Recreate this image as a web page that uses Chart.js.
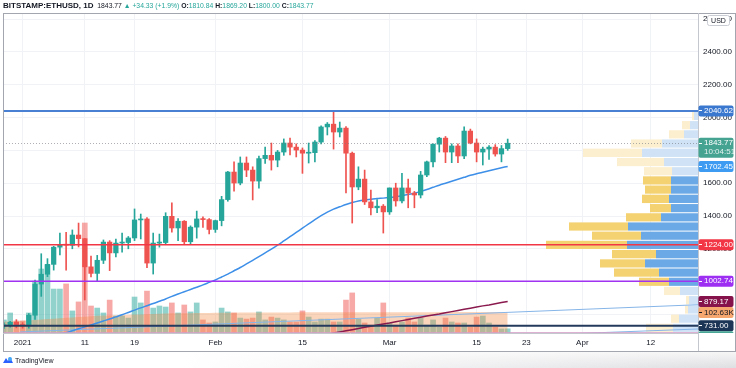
<!DOCTYPE html>
<html>
<head>
<meta charset="utf-8">
<title>BITSTAMP:ETHUSD 1D</title>
<script src="https://cdn.jsdelivr.net/npm/chart.js@4.4.1/dist/chart.umd.min.js"></script>
<style>
  html, body { margin: 0; padding: 0; background: #fff; }
  #wrap { position: relative; width: 736px; height: 368px; overflow: hidden; background: #fff; }
  #foot { position: absolute; left: 0; top: 352px; width: 736px; height: 16px;
    background: linear-gradient(to right, #fff 25%, rgba(255,255,255,0) 100%),
                linear-gradient(to bottom, #f6f6f7, #dedfe2); }
  #chart { position: absolute; left: 0; top: 0; }
  #hdr { position: absolute; left: 3px; top: 0; font: 6.8px "Liberation Sans", Arial, sans-serif;
    line-height: 11px; color: #131722; white-space: nowrap; z-index: 2; }
  #hdr .sym { font-weight: bold; font-size: 8px; }
  #hdr b { font-weight: bold; }
  #hdr .g { color: #26a69a; }
  #logo { position: absolute; left: 3px; top: 356px; font: 7px "Liberation Sans", Arial, sans-serif;
    color: #131722; z-index: 2; display: flex; align-items: center; gap: 2px; }
</style>
</head>
<body>
<div id="wrap">
  <div id="foot"></div>
  <canvas id="chart" width="736" height="368"></canvas>
  <div id="hdr"><span class="sym">BITSTAMP:ETHUSD, 1D</span>&nbsp; 1843.77 <span class="g">▲ +34.33 (+1.9%)</span> <b>O:</b><span class="g">1810.84</span> <b>H:</b><span class="g">1869.20</span> <b>L:</b><span class="g">1800.00</span> <b>C:</b><span class="g">1843.77</span></div>
  <div id="logo">
    <svg width="10" height="8" viewBox="0 0 10 8"><path d="M0 7 L3 2 L5 5 L7 1 L10 7 Z" fill="#2962ff"/><circle cx="7" cy="3" r="2" fill="#43a6f5"/></svg>
    <span>TradingView</span>
  </div>
</div>
<script>
// days are counted from 1 Jan 2021; first candle is 29 Dec 2020
const firstDay = -3;

const opens = [
  730, 735, 752, 738, 730, 795, 985, 1045, 1105, 1210,
  1225, 1222, 1284, 1262, 1090, 1050, 1130, 1241, 1175, 1235,
  1238, 1266, 1376, 1382, 1113, 1235, 1238, 1398, 1327, 1368,
  1243, 1332, 1382, 1378, 1318, 1372, 1500, 1668, 1601, 1723,
  1680, 1613, 1750, 1770, 1741, 1790, 1845, 1820, 1802, 1783,
  1786, 1851, 1943, 1960, 1912, 1936, 1783, 1577, 1625, 1486,
  1450, 1460, 1425, 1571, 1492, 1571, 1540, 1528, 1650, 1730,
  1838, 1875, 1790, 1827, 1766, 1918, 1845, 1790, 1808, 1820,
  1778, 1810.84
];
const highs = [
  748, 758, 768, 750, 805, 1010, 1170, 1140, 1215, 1296,
  1300, 1315, 1357, 1264, 1156, 1160, 1254, 1250, 1260, 1296,
  1275, 1443, 1412, 1390, 1296, 1290, 1420, 1480, 1385, 1372,
  1340, 1430, 1395, 1385, 1375, 1520, 1672, 1730, 1760, 1760,
  1700, 1765, 1820, 1845, 1800, 1870, 1875, 1840, 1815, 1845,
  1860, 1950, 1970, 2040.62, 1973, 1945, 1790, 1700, 1680, 1558,
  1500, 1470, 1571, 1600, 1660, 1625, 1550, 1672, 1735, 1840,
  1880, 1885, 1840, 1840, 1943, 1930, 1870, 1820, 1830, 1835,
  1830, 1869.20
];
const lows = [
  714, 722, 718, 716, 716, 770, 910, 1030, 1070, 1162,
  1070, 1200, 1211, 888, 1028, 1000, 1110, 1067, 1150, 1180,
  1200, 1250, 1260, 1085, 1046, 1210, 1225, 1302, 1250, 1225,
  1230, 1265, 1330, 1290, 1300, 1340, 1490, 1552, 1590, 1640,
  1498, 1570, 1720, 1680, 1700, 1770, 1772, 1760, 1660, 1723,
  1730, 1840, 1894, 1808, 1882, 1540, 1357, 1560, 1470, 1406,
  1420, 1296, 1410, 1460, 1480, 1450, 1450, 1510, 1640, 1700,
  1790, 1725, 1725, 1725, 1750, 1840, 1730, 1711, 1745, 1765,
  1730, 1800.00
];
const closes = [
  735, 752, 738, 730, 795, 985, 1045, 1105, 1210, 1225,
  1222, 1284, 1262, 1090, 1050, 1130, 1241, 1175, 1235, 1238,
  1266, 1376, 1382, 1113, 1235, 1238, 1398, 1327, 1368, 1243,
  1332, 1382, 1378, 1318, 1372, 1500, 1668, 1601, 1723, 1680,
  1613, 1750, 1770, 1741, 1790, 1845, 1820, 1802, 1783, 1786,
  1851, 1943, 1960, 1912, 1936, 1783, 1577, 1625, 1486, 1450,
  1460, 1425, 1571, 1492, 1571, 1540, 1528, 1650, 1730, 1838,
  1875, 1790, 1827, 1766, 1918, 1845, 1790, 1808, 1820, 1778,
  1810.84, 1843.77
];
// volume in thousands
const volumes = [
  64, 98, 59, 59, 98, 254, 313, 333, 215, 215,
  240, 108, 152, 538, 132, 122, 98, 161, 83, 83,
  73, 176, 147, 205, 122, 132, 127, 147, 98, 137,
  103, 147, 64, 49, 54, 122, 103, 98, 73, 68,
  73, 103, 64, 78, 73, 64, 54, 54, 108, 78,
  54, 68, 68, 54, 54, 161, 196, 68, 49, 39,
  73, 147, 49, 39, 54, 73, 54, 73, 39, 64,
  29, 73, 54, 49, 49, 29, 78, 83, 49, 29,
  20, 20.493
];
const volumeMA = [
  55, 57, 58, 60, 62, 64, 66, 68, 70, 72,
  74, 76, 78, 80, 82, 84, 85, 86, 87, 88,
  89, 90, 91, 92, 93, 94, 95, 96, 96, 97,
  97, 98, 98, 98, 99, 99, 99, 99, 100, 100,
  100, 100, 100, 100, 100, 100, 100, 101, 101, 101,
  101, 101, 101, 101, 101, 101, 101, 102, 102, 102,
  102, 102, 102, 102, 102, 102, 102, 102, 102, 102,
  102.2, 102.3, 102.4, 102.5, 102.5, 102.6, 102.6, 102.6, 102.6, 102.6,
  102.6, 102.63
];
const ma50 = [
  600, 612, 624, 636, 648, 660, 668, 675, 680, 684,
  688, 700, 712, 724, 736, 748, 760, 772, 785, 798,
  812, 826, 840, 853, 866, 880, 894, 910, 924, 938,
  952, 966, 980, 995, 1010, 1028, 1046, 1066, 1086, 1108,
  1130, 1152, 1175, 1198, 1222, 1248, 1274, 1300, 1326, 1352,
  1378, 1402, 1424, 1442, 1456, 1470, 1482, 1492, 1498, 1502,
  1506, 1509, 1513, 1518, 1524, 1531, 1539, 1550, 1562, 1575,
  1588, 1600, 1612, 1624, 1636, 1648, 1658, 1667, 1676, 1685,
  1694, 1702.45
];
const ma100Start = 46;
const ma100 = [
  658, 665, 672, 679, 686, 693, 700, 707, 714, 721,
  728, 735, 742, 748, 755, 762, 769, 776, 783, 790,
  797, 803, 810, 817, 824, 831, 838, 845, 852, 858,
  865, 872, 879.17
];
const trendA = [{ x: -0.4, y: 693 }, { x: 108.6, y: 859 }];
const trendB = [{ x: 87.5, y: 681 }, { x: 108.6, y: 711 }];

const levels = [2040.62, 1224.00, 1002.74, 731.00, 689];

const tickDays = [0, 10, 18, 31, 45, 59, 73, 81, 90, 101];
const tickLabels = ['2021', '11', '19', 'Feb', '15', 'Mar', '15', '23', 'Apr', '12'];
const priceTicks = [800, 1000, 1200, 1400, 1600, 1800, 2000, 2200, 2400, 2600];

// visible-range volume profile, rows from the bottom
const vpRowLows = [693, 749, 805, 861, 918, 974, 1030, 1086, 1142, 1199, 1255, 1311,
  1367, 1423, 1479, 1536, 1592, 1648, 1704, 1760, 1817, 1873, 1929, 1985];
const vpTop = 2041;
const vpUp = [25, 19, 10, 9, 18, 29, 39, 53, 42, 71, 57, 70, 37, 27, 29, 27, 27, 26, 34, 56, 36, 14, 8, 4];
const vpDown = [27, 8, 3, 3, 16, 30, 45, 45, 44, 81, 49, 59, 35, 21, 27, 26, 28, 28, 47, 59, 31, 15, 8, 2];
const vpValueArea = [5, 16];

const UP = '#26a69a', DOWN = '#ef5350';
const xs = opens.map((_, i) => i + firstDay);
const isUp = closes.map((c, i) => c >= opens[i]);
const candleColors = isUp.map(u => u ? UP : DOWN);
const volColors = isUp.map(u => u ? 'rgba(38,166,154,0.5)' : 'rgba(239,83,80,0.5)');
const levelColors = ['#4a80d4', '#f23645', '#a033f2', '#243a5c', 'rgba(214,160,200,0.9)'];
const levelWidths = [2, 1.5, 1.5, 2, 1];
const fmt = v => v.toFixed(2);

const profilePlugin = {
  id: 'profile',
  beforeDatasetsDraw(chart) {
    const { ctx, chartArea: a, scales: { y, xProf } } = chart;
    ctx.save();
    ctx.beginPath();
    ctx.rect(a.left, a.top, a.right - a.left, a.bottom - a.top);
    ctx.clip();
    const x0 = xProf.getPixelForValue(0);
    vpRowLows.forEach((lo, i) => {
      const hi = i + 1 < vpRowLows.length ? vpRowLows[i + 1] : vpTop;
      const yT = y.getPixelForValue(hi) + 1;
      const yB = y.getPixelForValue(lo);
      const inVA = i >= vpValueArea[0] && i <= vpValueArea[1];
      const xU = xProf.getPixelForValue(vpUp[i]);
      const xA = xProf.getPixelForValue(vpUp[i] + vpDown[i]);
      ctx.fillStyle = inVA ? '#6ba9e6' : '#d0e3f6';
      ctx.fillRect(xU, yT, x0 - xU, yB - yT);
      ctx.fillStyle = inVA ? '#f4d171' : '#fcefcf';
      ctx.fillRect(xA, yT, xU - xA, yB - yT);
    });
    ctx.restore();
  }
};

const overlayPlugin = {
  id: 'overlay',
  afterDatasetsDraw(chart) {
    const { ctx, chartArea: a, scales: { y } } = chart;
    ctx.save();
    ctx.beginPath();
    ctx.rect(a.left, a.top, a.right - a.left, a.bottom - a.top);
    ctx.clip();
    // last price dotted line
    const py = y.getPixelForValue(closes[closes.length - 1]);
    ctx.strokeStyle = 'rgba(120,123,134,0.6)';
    ctx.lineWidth = 1;
    ctx.setLineDash([1, 2]);
    ctx.beginPath(); ctx.moveTo(a.left, Math.round(py) + 0.5); ctx.lineTo(a.right, Math.round(py) + 0.5); ctx.stroke();
    ctx.setLineDash([]);
    levels.forEach((lv, i) => {
      const ly = y.getPixelForValue(lv);
      ctx.strokeStyle = levelColors[i];
      ctx.lineWidth = levelWidths[i];
      ctx.beginPath(); ctx.moveTo(a.left, ly); ctx.lineTo(a.right, ly); ctx.stroke();
    });
    ctx.restore();
  },
  afterDraw(chart) {
    const { ctx, chartArea: a, scales: { y, yVol } } = chart;
    // frame
    ctx.save();
    ctx.strokeStyle = '#a3a6af';
    ctx.lineWidth = 1;
    ctx.strokeRect(3.5, 13.5, 732, 338);
    ctx.strokeStyle = '#c4c7ce';
    ctx.beginPath();
    ctx.moveTo(a.right + 0.5, 13); ctx.lineTo(a.right + 0.5, 351);
    ctx.moveTo(3, a.bottom + 0.5); ctx.lineTo(a.right, a.bottom + 0.5);
    ctx.stroke();

    // price-scale tags
    const last = closes.length - 1;
    const tags = [
      { v: y.getPixelForValue(levels[0]), t: [fmt(levels[0])], bg: '#3a78d0', fg: '#fff' },
      { v: y.getPixelForValue(closes[last]), t: [fmt(closes[last]), '10:04:51'], bg: '#45a392', fg: '#fff' },
      { v: y.getPixelForValue(ma50[ma50.length - 1]), t: [fmt(ma50[ma50.length - 1])], bg: '#3d9cf2', fg: '#fff' },
      { v: y.getPixelForValue(levels[1]), t: [fmt(levels[1])], bg: '#f23645', fg: '#fff' },
      { v: y.getPixelForValue(levels[2]), t: [fmt(levels[2])], bg: '#9d2ff3', fg: '#fff' },
      { v: y.getPixelForValue(ma100[ma100.length - 1]), t: [fmt(ma100[ma100.length - 1])], bg: '#86124c', fg: '#fff' },
      { v: yVol.getPixelForValue(volumeMA[volumeMA.length - 1]), t: [fmt(volumeMA[volumeMA.length - 1]) + 'K'], bg: '#f6a66f', fg: '#131722' },
      { v: y.getPixelForValue(levels[3]), t: [fmt(levels[3])], bg: '#1b3556', fg: '#fff' },
      { v: yVol.getPixelForValue(volumes[last]), t: [volumes[last].toFixed(3) + 'K'], bg: '#47a696', fg: '#fff' }
    ];
    ctx.beginPath();
    ctx.rect(a.right, 13, 736 - a.right, a.bottom - 13);
    ctx.clip();
    let prevBottom = -Infinity;
    tags.sort((p, q) => p.v - q.v).forEach(tag => {
      const h = 11 + (tag.t.length - 1) * 9;
      let top = tag.v - 5.5;
      if (top < prevBottom) top = prevBottom;
      prevBottom = top + h;
      ctx.fillStyle = tag.bg;
      ctx.beginPath();
      ctx.roundRect(a.right + 0.5, top, 35, h, 2);
      ctx.fill();
      ctx.fillStyle = tag.fg;
      ctx.fillRect(a.right + 1, Math.round(top + 5), 3, 1);
      ctx.font = '8px "Liberation Sans", Arial, sans-serif';
      ctx.textBaseline = 'middle';
      tag.t.forEach((s, k) => {
        ctx.globalAlpha = k ? 0.85 : 1;
        ctx.fillText(s, a.right + 6, top + 5.5 + k * 9);
      });
      ctx.globalAlpha = 1;
    });
    ctx.restore();

    // currency badge
    ctx.save();
    ctx.fillStyle = '#fff';
    ctx.strokeStyle = '#c9ccd3';
    ctx.beginPath();
    ctx.roundRect(707.5, 15.5, 22, 10, 2);
    ctx.fill(); ctx.stroke();
    ctx.fillStyle = '#131722';
    ctx.font = '7px "Liberation Sans", Arial, sans-serif';
    ctx.textAlign = 'center';
    ctx.textBaseline = 'middle';
    ctx.fillText('USD', 718.5, 21);
    ctx.restore();
  }
};

new Chart(document.getElementById('chart'), {
  type: 'bar',
  data: {
    datasets: [
      {
        type: 'bar', label: 'body', order: 0, grouped: false,
        data: xs.map((x, i) => ({ x, y: [opens[i], closes[i]] })),
        backgroundColor: candleColors, barThickness: 4.6, minBarLength: 1,
        xAxisID: 'x', yAxisID: 'y'
      },
      {
        type: 'bar', label: 'wick', order: 1, grouped: false,
        data: xs.map((x, i) => ({ x, y: [lows[i], highs[i]] })),
        backgroundColor: candleColors, barThickness: 1,
        xAxisID: 'x', yAxisID: 'y'
      },
      {
        type: 'line', label: 'MA 50', order: 2,
        data: ma50.map((v, i) => ({ x: i + firstDay, y: v })),
        borderColor: '#3d8fe8', borderWidth: 1.5, pointRadius: 0, tension: 0.3,
        xAxisID: 'x', yAxisID: 'y'
      },
      {
        type: 'line', label: 'MA 100', order: 2,
        data: ma100.map((v, i) => ({ x: i + ma100Start, y: v })),
        borderColor: '#8a1a4e', borderWidth: 1.5, pointRadius: 0,
        xAxisID: 'x', yAxisID: 'y'
      },
      {
        type: 'line', label: 'trend A', order: 2, data: trendA,
        borderColor: '#86b5e8', borderWidth: 1, pointRadius: 0,
        xAxisID: 'x', yAxisID: 'y'
      },
      {
        type: 'line', label: 'trend B', order: 2, data: trendB,
        borderColor: '#86b5e8', borderWidth: 1, pointRadius: 0,
        xAxisID: 'x', yAxisID: 'y'
      },
      {
        type: 'line', label: 'Volume MA', order: 3,
        data: volumeMA.map((v, i) => ({ x: i + firstDay, y: v })),
        borderWidth: 0, pointRadius: 0, fill: 'origin',
        backgroundColor: 'rgba(245,138,66,0.36)',
        xAxisID: 'x', yAxisID: 'yVol'
      },
      {
        type: 'bar', label: 'Volume', order: 4, grouped: false,
        data: volumes.map((v, i) => ({ x: i + firstDay, y: v })),
        backgroundColor: volColors, barThickness: 5,
        xAxisID: 'x', yAxisID: 'yVol'
      }
    ]
  },
  options: {
    responsive: false,
    animation: false,
    events: [],
    layout: { padding: { left: 3, top: 13, right: 1, bottom: 17 } },
    plugins: { legend: { display: false }, tooltip: { enabled: false } },
    scales: {
      x: {
        type: 'linear', position: 'bottom', min: -3.15, max: 108.6, offset: false,
        afterBuildTicks: s => { s.ticks = tickDays.map(v => ({ value: v })); },
        afterFit: s => { s.height = 18; },
        grid: { color: '#f0f2f6', drawTicks: false, offset: false },
        border: { display: false },
        ticks: {
          autoSkip: false, maxRotation: 0, padding: 5, color: '#131722',
          font: { size: 8, family: '"Liberation Sans", Arial, sans-serif' },
          callback: (v, i) => tickLabels[i]
        }
      },
      y: {
        type: 'linear', position: 'right', min: 686.6, max: 2637.8,
        afterBuildTicks: s => { s.ticks = priceTicks.map(v => ({ value: v })); },
        afterFit: s => { s.width = 37; },
        grid: { color: '#f0f2f6', drawTicks: false },
        border: { display: false },
        ticks: {
          padding: 5, color: '#131722',
          font: { size: 8, family: '"Liberation Sans", Arial, sans-serif' },
          callback: v => v.toFixed(2)
        }
      },
      yVol: { type: 'linear', display: false, min: 0, max: 1565 },
      xProf: { type: 'linear', display: false, min: 0, max: 695, reverse: true, offset: false }
    }
  },
  plugins: [profilePlugin, overlayPlugin]
});
</script>
</body>
</html>
